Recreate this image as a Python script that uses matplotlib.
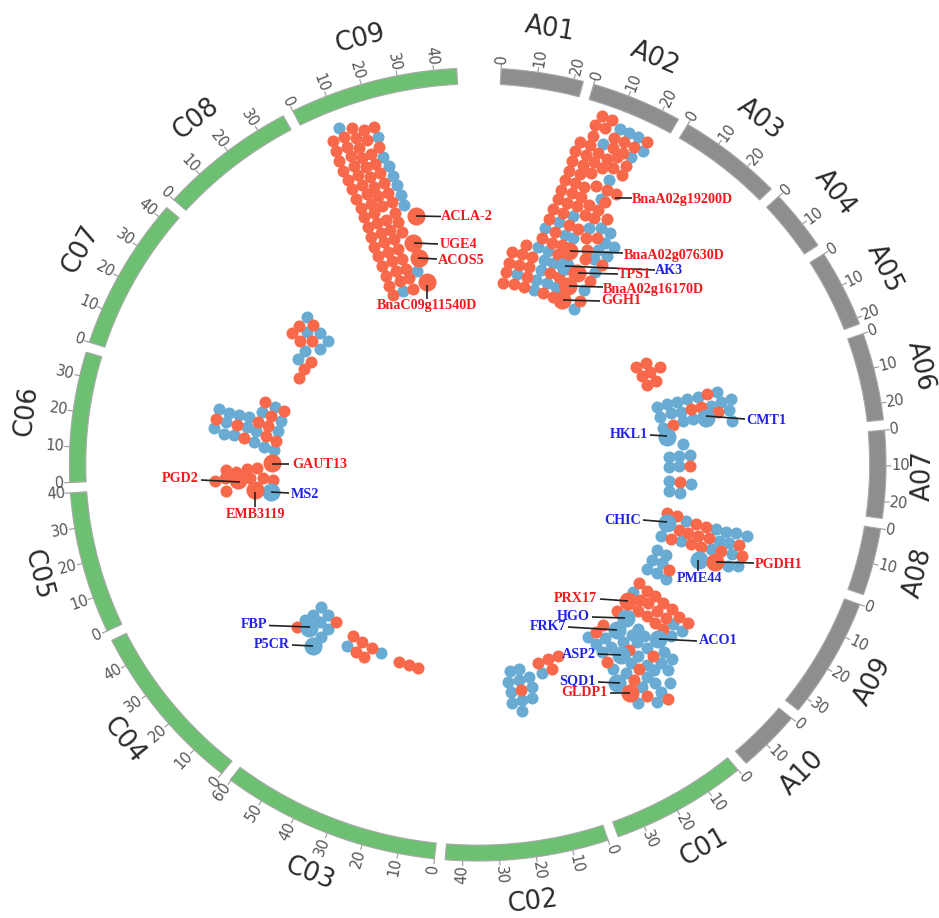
"""Circular genome plot: chromosome ring with gene dots and labelled hub genes."""

import numpy as np
import matplotlib
matplotlib.use("Agg")
import matplotlib.pyplot as plt

W, H = 939, 918
CX, CY = 477.7, 464.5
RX, RY = 408.3, 396.5
INNER = 0.96
START_DEG = 3.3
DEG_PER_MB = 0.518
GAP_DEG = 1.5

RED = "#F7694A"
BLUE = "#69ABD2"
GREEN = "#6DC072"
GREY = "#8E8E8E"
TXT_RED = "#F5181C"
TXT_BLUE = "#2222E6"

# ── chromosomes ──────────────────────────────────────────────────────────────
chrom_names = ["A01", "A02", "A03", "A04", "A05", "A06", "A07", "A08", "A09", "A10",
               "C01", "C02", "C03", "C04", "C05", "C06", "C07", "C08", "C09"]
chrom_lengths = [22.6, 25.0, 29.0, 17.3, 21.8, 24.7, 24.7, 19.0, 34.0, 17.6,
                 37.6, 44.8, 60.3, 48.0, 40.0, 36.8, 43.3, 38.0, 46.3]

# ── gene dots, in 1/3 px from the origin of each cluster ─────────────────────
a02_origin = (490, 100)
a02_red = [(335, 48), (366, 60), (315, 75), (345, 85), (310, 107), (270, 125), (300, 135),
           (371, 113), (402, 127), (432, 140), (472, 126), (255, 152), (288, 165), (325, 160),
           (368, 145), (398, 158), (245, 183), (278, 195), (312, 185), (350, 178), (382, 172),
           (238, 212), (270, 222), (303, 218), (335, 205), (368, 205), (408, 198), (225, 240),
           (255, 250), (283, 262), (318, 258), (395, 225), (212, 270), (245, 278), (272, 290),
           (350, 270), (378, 282), (205, 298), (232, 308), (262, 318), (297, 315), (345, 305),
           (190, 327), (220, 338), (285, 345), (323, 330), (312, 355), (178, 357), (350, 358),
           (236, 375), (263, 387), (155, 415), (195, 395), (288, 415), (320, 415), (185, 428),
           (215, 435), (290, 450), (107, 435), (67, 457), (97, 462), (127, 472), (58, 488),
           (88, 495), (118, 502), (48, 517), (110, 530), (40, 548), (72, 553), (102, 560),
           (180, 520), (207, 530), (337, 495), (300, 543), (160, 580), (190, 592), (270, 602),
           (205, 462), (285, 478)]
a02_blue = [(390, 87), (418, 100), (445, 110), (458, 153), (423, 170), (338, 133), (358, 240),
            (333, 297), (250, 348), (207, 365), (165, 385), (297, 385), (333, 385), (360, 400),
            (225, 405), (250, 413), (345, 428), (373, 442), (325, 450), (350, 468), (312, 478),
            (143, 442), (175, 452), (162, 480), (190, 490), (152, 510), (315, 515), (82, 523),
            (138, 540), (170, 550), (198, 560), (132, 570), (282, 570), (253, 626)]
a02_big_red = [(238, 452), (262, 518), (235, 558), (215, 600)]
a02_big_blue = [(225, 498)]

c09_origin = (320, 110)
c09_red = [(40, 92), (48, 122), (58, 152), (70, 182), (83, 210), (95, 238), (107, 266), (122, 294),
           (133, 322), (143, 352), (153, 382), (163, 410), (175, 438), (187, 467), (197, 497),
           (208, 527), (220, 555), (72, 80), (82, 110), (92, 138), (103, 167), (115, 195),
           (127, 225), (140, 253), (152, 282), (163, 310), (172, 340), (183, 368), (193, 397),
           (205, 425), (217, 453), (228, 483), (240, 513), (95, 55), (107, 85), (117, 113),
           (125, 143), (138, 172), (150, 200), (162, 230), (173, 258), (187, 288), (198, 330),
           (210, 360), (222, 388), (233, 417), (245, 447), (257, 477), (268, 505), (278, 537),
           (132, 60), (142, 90), (152, 133), (165, 162), (180, 190), (192, 218), (205, 248),
           (217, 277), (225, 308), (235, 337), (247, 367), (162, 52), (178, 112)]
c09_blue = [(58, 53), (175, 82), (190, 140), (208, 168), (220, 197), (232, 226), (244, 255),
            (252, 286), (292, 483), (248, 543)]
c09_big_red = [(287, 318), (280, 400), (297, 443), (322, 517)]

c06_origin = (150, 300)
c06_red = [(448, 77), (490, 75), (427, 100), (450, 122), (487, 123), (482, 185), (463, 208),
           (448, 233), (345, 307), (403, 332), (363, 348), (199, 356), (260, 375), (325, 365),
           (355, 378), (283, 413), (348, 407), (378, 422), (228, 510), (258, 515), (290, 507),
           (320, 505), (195, 542), (228, 572), (225, 535), (300, 535), (338, 535), (368, 540),
           (275, 530)]
c06_blue = [(470, 52), (472, 97), (510, 100), (533, 123), (510, 147), (465, 152), (445, 178),
            (206, 328), (237, 338), (268, 345), (298, 352), (335, 337), (375, 320), (392, 362),
            (385, 392), (228, 365), (193, 385), (223, 402), (253, 405), (290, 382), (318, 393),
            (313, 425), (343, 440), (372, 450)]
c06_big_red = [(365, 490), (265, 540), (315, 570)]
c06_big_blue = [(362, 575)]

a07_origin = (600, 350)
a07_red = [(137, 38), (107, 50), (180, 50), (125, 77), (168, 92), (140, 105), (150, 65),
           (322, 133), (272, 178), (303, 172), (355, 187), (220, 225), (270, 347), (240, 397),
           (200, 490), (232, 497), (289, 523), (318, 530), (236, 541), (265, 548), (295, 557),
           (328, 563), (212, 567), (272, 582), (303, 590), (418, 585), (363, 603), (425, 617),
           (208, 660)]
a07_blue = [(170, 172), (201, 163), (232, 157), (262, 148), (293, 142), (352, 127), (393, 148),
            (362, 157), (333, 167), (180, 200), (212, 190), (243, 187), (248, 213), (280, 207),
            (310, 197), (387, 180), (395, 213), (190, 235), (248, 282), (207, 320), (237, 318),
            (270, 315), (208, 350), (238, 347), (208, 392), (272, 403), (207, 423), (240, 430),
            (258, 512), (183, 557), (348, 537), (378, 545), (409, 550), (441, 558), (243, 573),
            (358, 572), (387, 578), (333, 597), (395, 612), (383, 647), (415, 647), (170, 600),
            (197, 615), (155, 630), (185, 640), (140, 657), (170, 670), (197, 687)]
a07_big_red = [(345, 637)]
a07_big_blue = [(317, 203), (202, 260), (200, 520), (297, 630)]

c01_origin = (490, 570)
c01_red = [(448, 40), (470, 62), (495, 78), (520, 98), (545, 117), (568, 140), (595, 158),
           (380, 122), (340, 165), (318, 185), (450, 90), (475, 100), (500, 122), (527, 145),
           (445, 122), (472, 138), (495, 160), (520, 178), (417, 240), (490, 257), (350, 275),
           (447, 298), (433, 330), (470, 378), (535, 388), (145, 280), (175, 268), (203, 257),
           (185, 297), (92, 360)]
c01_blue = [(430, 65), (550, 163), (575, 182), (543, 197), (295, 202), (318, 222), (345, 205),
            (362, 230), (335, 245), (400, 215), (425, 195), (445, 178), (463, 197), (440, 217),
            (470, 235), (445, 258), (523, 245), (547, 268), (423, 280), (470, 285), (513, 280),
            (492, 300), (535, 300), (370, 298), (407, 310), (470, 320), (495, 338), (540, 340),
            (455, 350), (513, 365), (445, 400), (500, 397), (155, 310), (60, 303), (88, 297),
            (118, 320), (55, 335), (88, 330), (125, 352), (62, 367), (127, 385), (65, 398),
            (95, 390), (95, 423)]
c01_big_red = [(413, 92), (420, 368)]
c01_big_blue = [(407, 145), (380, 180), (505, 208), (392, 255), (380, 340)]

c04_origin = (230, 590)
c04_red = [(200, 110), (318, 95), (370, 138), (397, 155), (425, 175), (377, 185), (403, 200),
           (507, 215), (537, 225), (565, 233)]
c04_blue = [(273, 52), (250, 75), (295, 75), (225, 90), (270, 95), (295, 118), (273, 142),
            (352, 167), (452, 190)]
c04_big_blue = [(238, 115), (248, 167)]

# ── gene labels and leader lines ─────────────────────────────────────────────
gene_names = ["BnaA02g19200D", "BnaA02g07630D", "AK3", "TPS1", "BnaA02g16170D", "GGH1",
              "ACLA-2", "UGE4", "ACOS5", "BnaC09g11540D", "GAUT13", "PGD2", "MS2", "EMB3119",
              "CMT1", "HKL1", "CHIC", "PGDH1", "PME44", "PRX17", "HGO", "FRK7", "ACO1", "ASP2",
              "SQD1", "GLDP1", "FBP", "P5CR"]
gene_x = [632, 624, 655, 618, 603, 601, 441, 440, 438, 427, 292, 199, 291, 256,
          746, 648, 641, 755, 700, 597, 590, 566, 699, 596, 596, 607, 267, 290]
gene_y = [199, 255, 270, 275, 289, 301, 217, 244, 260, 306, 465, 479, 494, 515,
          420, 435, 520, 564, 579, 598, 616, 627, 641, 654, 681, 693, 625, 645]
gene_ha = ["left", "left", "left", "left", "left", "left", "left", "left", "left", "center",
           "left", "right", "left", "center", "left", "right", "right", "left", "center",
           "right", "right", "right", "left", "right", "right", "right", "right", "right"]
gene_color = ["r", "r", "b", "r", "r", "r", "r", "r", "r", "r", "r", "r", "b", "r",
              "b", "b", "b", "r", "b", "r", "b", "b", "b", "b", "b", "r", "b", "b"]
line_x0 = [615, 570, 565, 578, 569, 563, 416, 414, 418, 427, 272, 201, 271, 255,
           706, 650, 643, 716, 698, 600, 592, 568, 659, 598, 598, 610, 269, 292]
line_y0 = [198, 251, 266, 273, 286, 300, 216, 243, 258, 285, 464, 480, 492, 492,
           416, 435, 520, 562, 560, 599, 617, 627, 639, 654, 682, 693, 625.5, 645]
line_x1 = [632, 623, 655, 618, 603, 600, 441, 438, 437, 427, 289, 240, 289, 255,
           745, 667, 667, 754, 698, 628, 625, 617, 697, 621, 620, 630, 310, 313]
line_y1 = [198, 253, 270, 274, 287, 301, 216.5, 244, 259, 299, 464, 482, 493, 507,
           419, 436, 522, 563, 571, 601, 618, 630, 641, 655, 683, 693, 627, 646]


def polar(theta_deg, r):
    t = np.radians(theta_deg)
    return CX + RX * r * np.sin(t), CY - RY * r * np.cos(t)


def draw_dots(ax, pts, origin, color, size):
    if not pts:
        return
    pts = np.asarray(pts, dtype=float)
    ax.scatter(origin[0] + pts[:, 0] / 3, origin[1] + pts[:, 1] / 3, s=size, c=color,
               linewidths=0, zorder=3)


def draw_ring(ax):
    theta = START_DEG
    for name, length in zip(chrom_names, chrom_lengths):
        end = theta + length * DEG_PER_MB
        tt = np.linspace(theta, end, 60)
        xo, yo = polar(tt, 1.0)
        xi, yi = polar(tt[::-1], INNER)
        color = GREY if name.startswith("A") else GREEN
        ax.fill(np.r_[xo, xi], np.r_[yo, yi], facecolor=color, edgecolor="#A8A8A8", lw=0.8,
                zorder=2)

        for mb in range(0, int(length) + 1, 10):
            th = theta + mb * DEG_PER_MB
            x0, y0 = polar(th, 1.0)
            x1, y1 = polar(th, 1.012)
            ax.plot([x0, x1], [y0, y1], color="#999999", lw=0.8, zorder=1)
            tx, ty = polar(th, 1.036 if mb else 1.025)
            th_norm = th % 360
            rot = 90 - th_norm if th_norm < 180 else 270 - th_norm
            ax.text(tx, ty, str(mb), rotation=rot, rotation_mode="anchor", ha="center",
                    va="center", fontsize=10.5, color="#555555")

        mid = (theta + end) / 2
        lx, ly = polar(mid, 1.112)
        # A07 sits right on the picture edge, pull it in so it isn't cut
        lx = min(lx, W - 16)
        rot = -mid if (mid < 90 or mid > 270) else 180 - mid
        ax.text(lx, ly, name, rotation=rot, rotation_mode="anchor", ha="center", va="center",
                fontsize=18.5, color="#2A2A2A")
        theta = end + GAP_DEG


def main():
    fig = plt.figure(figsize=(W / 100, H / 100), dpi=100)
    ax = fig.add_axes([0, 0, 1, 1])
    ax.set_xlim(0, W)
    ax.set_ylim(H, 0)
    ax.axis("off")

    draw_ring(ax)

    small, big = 75, 170
    for origin, red, blue in [(a02_origin, a02_red, a02_blue), (c09_origin, c09_red, c09_blue),
                              (c06_origin, c06_red, c06_blue), (a07_origin, a07_red, a07_blue),
                              (c01_origin, c01_red, c01_blue), (c04_origin, c04_red, c04_blue)]:
        draw_dots(ax, blue, origin, BLUE, small)
        draw_dots(ax, red, origin, RED, small)
    for origin, red, blue in [(a02_origin, a02_big_red, a02_big_blue), (c09_origin, c09_big_red, []),
                              (c06_origin, c06_big_red, c06_big_blue),
                              (a07_origin, a07_big_red, a07_big_blue),
                              (c01_origin, c01_big_red, c01_big_blue), (c04_origin, [], c04_big_blue)]:
        draw_dots(ax, blue, origin, BLUE, big)
        draw_dots(ax, red, origin, RED, big)

    for i, name in enumerate(gene_names):
        ax.plot([line_x0[i], line_x1[i]], [line_y0[i], line_y1[i]], color="#222222", lw=1.2,
                zorder=4, solid_capstyle="butt")
        ax.text(gene_x[i], gene_y[i], name, ha=gene_ha[i], va="center", fontsize=10.2,
                family="Liberation Serif", fontweight="bold", zorder=5,
                color=TXT_RED if gene_color[i] == "r" else TXT_BLUE)

    fig.savefig("out.png", dpi=100)
    plt.close(fig)


if __name__ == "__main__":
    main()
